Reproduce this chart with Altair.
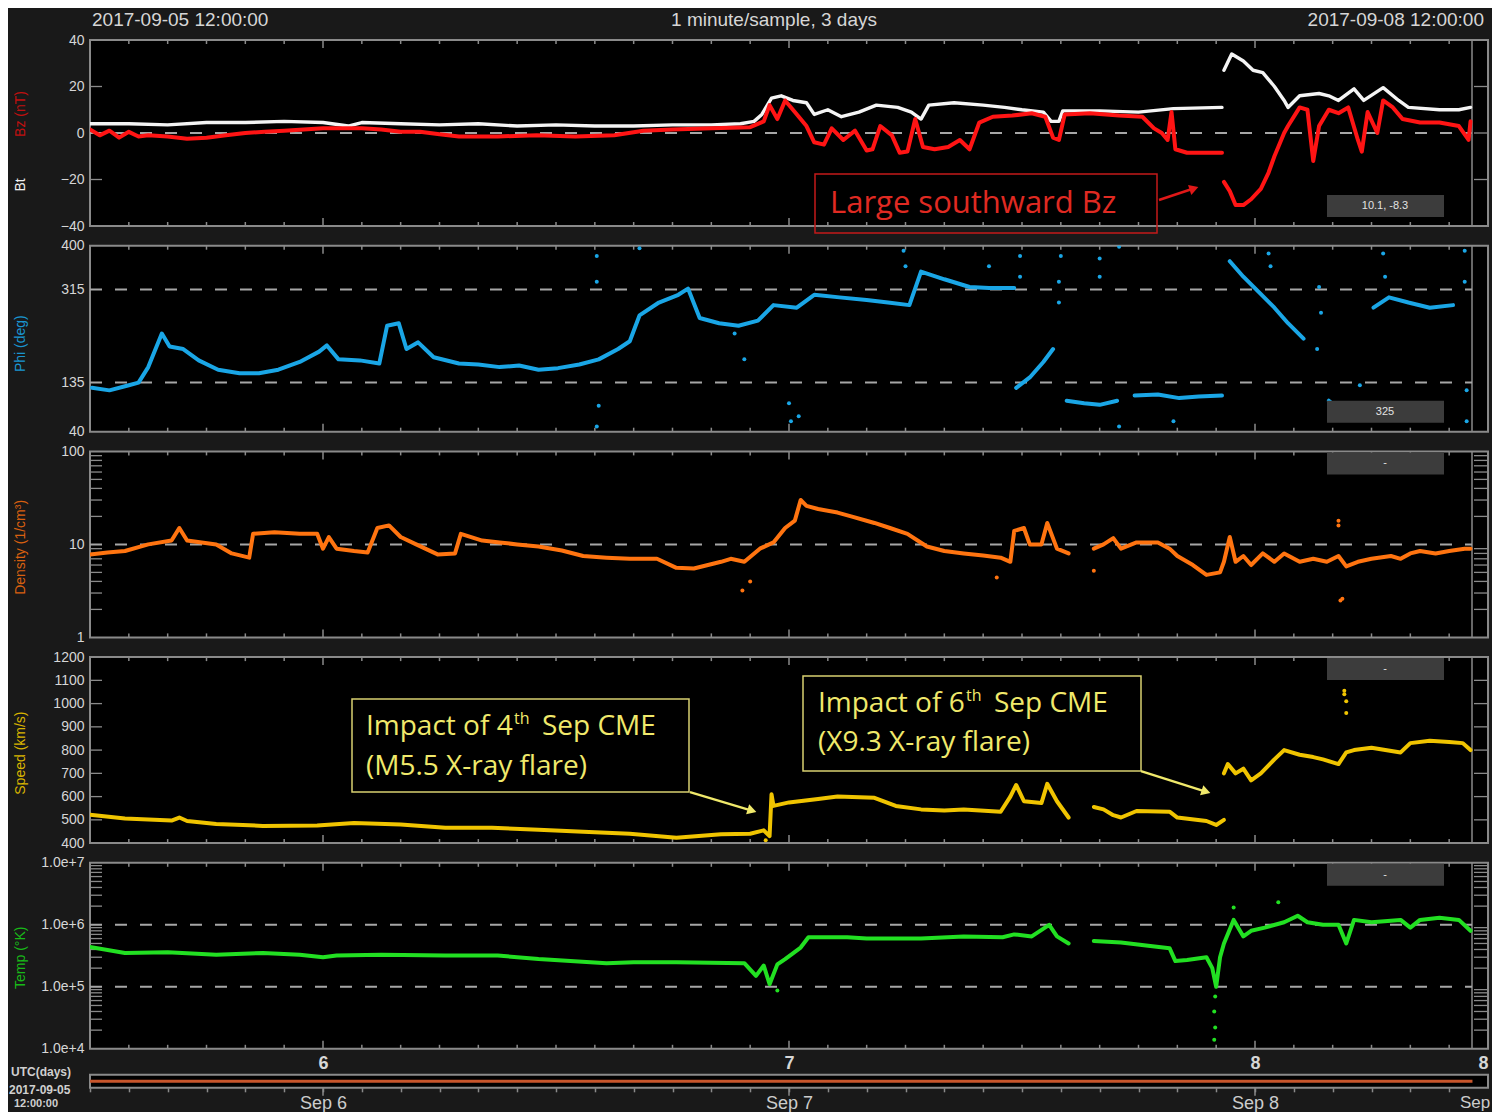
import altair as alt
import pandas as pd

# ---------------- data: hours since 2017-09-05 12:00 UTC ----------------
# Bt (white)
bt_h1 = [0, 2, 4, 6, 8, 10, 12, 13.3, 14, 16, 18, 20, 22, 24, 26, 28, 30, 32, 33.5, 34.2, 34.6, 35.1, 35.6, 36.2, 36.9,
         37.3, 38, 38.7, 39.6, 40.5, 41.6, 42.3, 42.8, 43.2, 44.5, 46, 47.1, 48, 49.1, 49.5, 49.9, 50.1, 52, 54, 55.8, 58.3]
bt_v1 = [4, 4, 3.5, 4.5, 4.5, 5, 4.5, 3, 4.5, 4, 3.5, 4, 3, 3.5, 3, 3, 3.5, 3.5, 4, 5, 8, 15, 16, 14, 13,
         8, 10, 7, 9, 12, 11, 9, 6, 12, 13, 12, 11, 10, 9, 5, 5, 9.5, 9.5, 9, 10.5, 11]
bt_h2 = [58.4, 58.8, 59.4, 59.9, 60.4, 61.0, 61.5, 61.7, 62.3, 63.3, 63.8, 64.3, 65.1, 65.6, 66.6, 67.4, 67.9, 69.5, 70.5, 71.1]
bt_v2 = [27, 34, 31, 27, 26, 20, 14, 11, 16, 17, 16, 14, 19, 14, 19.5, 14, 11, 10, 10, 11]

# Bz (red)
bz_h1 = [0, 0.5, 1, 1.5, 2, 2.5, 3, 4, 5, 6, 7, 8, 9, 10, 11, 12, 13, 14, 15, 16, 17, 18, 19, 21, 23, 25, 27, 28.5, 30, 32,
         34, 34.7, 35, 35.4, 35.8, 36.3, 36.9, 37.3, 37.8, 38.2, 38.8, 39.4, 40, 40.3, 40.7, 41.3, 41.7, 42.1, 42.5, 42.9,
         43.5, 44.2, 44.8, 45.3, 45.8, 46.5, 47.5, 48.5, 49.2, 49.6, 49.9, 50.2, 51.5, 53, 54.2, 54.8, 55.2, 55.5, 55.7,
         55.9, 56.5, 58.3]
bz_v1 = [1.5, -1, 1, -2, 0.5, -1.5, -1, -1.5, -2.5, -2, -1, 0, 0.5, 1, 1.5, 2, 2, 2, 1.5, 0.5, 0.5, -0.5, -1.5, -1.5, -1,
         -1.5, -1, 1, 1.5, 2, 2.5, 5, 12, 6, 14, 9, 3, -4, -5, 2, -3, 1, -7.5, -7, 3, -1, -8.5, -8, 6, -6,
         -7, -6, -3, -7, 4.5, 7, 7.5, 8.5, 7, -2, -3, 8, 8.5, 7.5, 7, 2, 0, -3, 9, -7, -8.5, -8.5]
bz_h2 = [58.4, 58.7, 59.0, 59.4, 59.8, 60.3, 60.7, 61.0, 61.5, 61.7, 62.3, 62.7, 63.0, 63.3, 63.8, 64.3, 64.8, 65.3, 65.5,
         65.8, 66.3, 66.6, 67.1, 67.6, 68.5, 69.5, 70.5, 71.0, 71.1]
bz_v2 = [-21, -25, -31, -31, -28.5, -24, -17, -10, 0, 3, 11, 10, -12, 3, 10, 8.5, 11, -3, -8, 9, 0, 14, 11, 6, 4.5, 4.5,
         3, -3, 5]

# Phi (deg)
phi_h1 = [0.1, 1.0, 2.0, 2.5, 3.0, 3.7, 4.1, 4.8, 5.6, 6.6, 7.7, 8.7, 9.7, 10.8, 11.8, 12.2, 12.8, 13.9, 14.9, 15.3, 15.9,
          16.3, 16.9, 17.7, 19.0, 20.0, 21.1, 22.1, 23.1, 24.1, 25.2, 26.2, 27.2, 27.8, 28.3, 29.3, 30.3, 30.8, 31.4, 32.4,
          33.4, 34.4, 35.2, 36.4, 37.3, 38.6, 40.0, 41.1, 42.2, 42.8, 44.0, 45.3, 46.3, 47.6]
phi_v1 = [125, 120, 130, 135, 165, 230, 205, 200, 178, 160, 153, 153, 160, 175, 195, 207, 180, 178, 172, 245, 250,
          200, 213, 184, 172, 170, 165, 168, 160, 163, 170, 180, 200, 215, 265, 290, 305, 317, 260, 250,
          245, 255, 285, 280, 305, 300, 295, 290, 285, 350, 335, 320, 318, 318]
phi_h2 = [47.7, 48.4, 49.1, 49.6]
phi_v2 = [125, 145, 175, 200]
phi_h3 = [50.3, 51.2, 52.0, 52.9]
phi_v3 = [100, 95, 92, 100]
phi_h4 = [53.8, 55.0, 56.1, 57.1, 58.3]
phi_v4 = [110, 112, 105, 108, 110]
phi_h5 = [58.7, 59.4, 60.2, 61.0, 61.7, 62.5]
phi_v5 = [370, 340, 310, 280, 250, 220]
phi_h6 = [63.8, 64.6]
phi_v6 = [100, 75]
phi_h7 = [66.1, 66.9, 67.9, 69.0, 70.2]
phi_v7 = [280, 300, 290, 280, 285]
phi_out_h = [26.1, 26.1, 26.2, 26.1, 28.3, 33.2, 33.7, 36.0, 36.1, 36.5, 41.9, 42.0, 46.3, 47.9, 47.9, 49.9, 49.9, 50.0,
             52.0, 52.0, 53.0, 53.0, 55.8, 60.7, 60.8, 63.3, 63.4, 63.2, 65.4, 65.5, 66.6, 66.7, 70.8, 70.8, 70.9, 70.9]
phi_out_v = [380, 330, 90, 50, 395, 230, 180, 95, 60, 70, 390, 360, 360, 380, 340, 290, 330, 380,
             375, 340, 398, 50, 60, 385, 360, 320, 270, 200, 130, 80, 385, 340, 390, 330, 120, 60]

# Density (1/cm^3)
den_h1 = [0, 0.9, 1.8, 3.0, 4.2, 4.6, 5.0, 6.5, 7.3, 8.2, 8.4, 9.5, 10.8, 11.7, 12.0, 12.3, 12.7, 13.6, 14.3, 14.8, 15.4,
          16.0, 16.8, 17.9, 18.8, 19.1, 20.2, 21.1, 22.0, 23.1, 24.3, 25.4, 26.6, 27.8, 29.2, 30.2, 31.1, 32.5, 33.0, 33.7,
          34.5, 35.2, 35.8, 36.3, 36.6, 36.9, 37.5, 38.5, 39.2, 40.4, 41.2, 42.1, 43.1, 44.0, 45.0, 46.0, 46.9, 47.4, 47.6,
          48.1, 48.4, 49.0, 49.3, 49.8, 50.4]
den_v1 = [7.8, 8.2, 8.5, 10, 11, 15, 11, 10, 8, 7.2, 13, 13.5, 13, 13, 9, 12, 9, 8.5, 8.2, 15, 16,
          12, 10, 7.8, 8, 13, 11, 10.5, 10, 9.5, 8.6, 7.5, 7.2, 7, 7, 5.6, 5.5, 6.5, 7, 6.5,
          9, 10.5, 15, 18, 30, 26, 24, 22, 20, 17, 15, 13, 9.5, 8.5, 8, 7.6, 7.2, 6.5, 14,
          15, 10, 10, 17, 9, 8]
den_h2 = [51.7, 52.2, 52.7, 53.1, 53.9, 55.0, 55.6, 56.0, 56.8, 57.5, 58.2, 58.4, 58.7, 59.0, 59.4, 59.8, 60.4, 61.0, 61.5,
          62.3, 63.0, 63.7, 64.3, 64.7, 65.3, 66.0, 67.0, 67.5, 68.0, 68.5, 69.3, 70.0, 70.8, 71.1]
den_v2 = [9, 10, 11.7, 9, 10.5, 10.5, 9, 7.5, 6, 4.7, 5, 6.5, 12, 6.5, 7.5, 6, 8, 6.5, 8,
          6.5, 7, 6.5, 7.5, 5.8, 6.5, 7, 7.5, 7, 8, 8.5, 8, 8.5, 9, 9]
den_out_h = [33.6, 34.0, 64.4, 64.5, 64.3, 64.3, 46.7, 51.7]
den_out_v = [3.2, 4.0, 2.5, 2.6, 18, 16, 4.4, 5.2]

# Speed (km/s)
spd_h1 = [0, 1.8, 4.2, 4.6, 5.0, 6.5, 8.9, 11.7, 13.6, 16.0, 18.3, 20.7, 23.1, 25.4, 27.8, 30.2, 32.5, 34.0, 34.7, 35.0,
          35.1, 35.2, 36.0, 37.5, 38.5, 40.4, 41.5, 42.8, 44.0, 45.0, 46.9, 47.4, 47.7, 48.1, 49.0, 49.3, 49.8, 50.4]
spd_v1 = [522, 506, 497, 510, 495, 482, 474, 476, 486, 480, 466, 466, 457, 449, 440, 423, 438, 440, 455, 430,
          610, 560, 575, 590, 600, 595, 560, 545, 540, 545, 535, 600, 650, 580, 572, 655, 580, 510]
spd_h2 = [51.7, 52.2, 52.7, 53.1, 53.9, 55.6, 56.0, 57.5, 58.0, 58.4]
spd_v2 = [555, 545, 520, 510, 538, 535, 510, 495, 478, 500]
spd_h3 = [58.4, 58.6, 59.0, 59.4, 59.8, 60.3, 61.0, 61.5, 62.3, 63.0, 63.5, 64.3, 64.7, 65.1, 66.0, 67.5, 68.0, 69.0, 70.0,
          70.7, 71.1]
spd_v3 = [700, 740, 700, 720, 670, 700, 760, 800, 780, 770, 760, 740, 790, 800, 810, 790, 830, 840, 835, 830, 800]
spd_out_h = [64.6, 64.6, 64.7, 64.7, 34.8]
spd_out_v = [1055, 1040, 1010, 960, 412]

# Temperature (K)
tmp_h1 = [0, 1.8, 4.0, 6.5, 8.9, 10.8, 12.0, 12.7, 15.0, 18.3, 21.0, 23.1, 26.6, 28.0, 30.2, 33.7, 34.3, 34.7, 35.0, 35.4,
          35.8, 36.6, 37.0, 39.0, 40.0, 42.8, 45.0, 47.0, 47.6, 48.5, 49.4, 49.8, 50.4]
tmp_v1 = [4.4e5, 3.5e5, 3.6e5, 3.3e5, 3.5e5, 3.3e5, 3.0e5, 3.2e5, 3.3e5, 3.2e5, 3.2e5, 2.8e5, 2.4e5, 2.5e5, 2.5e5, 2.4e5,
          1.5e5, 2.2e5, 1.1e5, 2.3e5, 2.8e5, 4.3e5, 6.3e5, 6.3e5, 6.0e5, 6.0e5, 6.5e5, 6.3e5, 7.0e5, 6.5e5, 1.0e6, 6.5e5,
          5.0e5]
tmp_h2 = [51.7, 53.1, 54.5, 55.6, 55.9, 56.5, 57.5, 57.8, 58.0, 58.2, 58.4, 58.9, 59.4, 59.8, 60.5, 61.5, 62.2, 62.7, 63.5,
          64.3, 64.7, 65.1, 66.0, 67.5, 68.0, 68.5, 69.5, 70.5, 71.1]
tmp_v2 = [5.5e5, 5.2e5, 4.6e5, 4.2e5, 2.6e5, 2.7e5, 3.0e5, 2.0e5, 1.0e5, 3.0e5, 5.0e5, 1.2e6, 6.5e5, 8.0e5, 9.0e5, 1.1e6,
          1.4e6, 1.1e6, 1.0e6, 1.0e6, 5.0e5, 1.2e6, 1.1e6, 1.2e6, 9.0e5, 1.2e6, 1.3e6, 1.2e6, 8.0e5]
tmp_out_h = [57.9, 57.95, 57.9, 57.95, 58.9, 61.2, 35.4]
tmp_out_v = [1.4e4, 2.2e4, 4e4, 7e4, 1.9e6, 2.3e6, 8.7e4]

# labels
header_left = "2017-09-05 12:00:00"
header_mid = "1 minute/sample, 3 days"
header_right = "2017-09-08 12:00:00"
day_hours = [12, 36, 60]

# ---------------- styling ----------------
FONT = "Liberation Sans"
ANNOT_FONT = "Open Sans"
BG = "#191919"
FRAME = "#8a8a8a"
DASH = "#a6a6a6"
LBL = "#d6d6d6"
W, H = 1398, 186
STRIP = 1382
LW = 4.0
TS = 14  # y-title font size
XS = alt.Scale(domain=[0, 72], nice=False, zero=False)
one = pd.DataFrame({"k": [0]})


def seg_df(*segs):
    rows = []
    for i, (hs, vs) in enumerate(segs):
        assert len(hs) == len(vs)
        rows += [{"h": h, "v": v, "seg": i} for h, v in zip(hs, vs)]
    return pd.DataFrame(rows)


def text(t, x, y, size=12, color=LBL, align="left", baseline="middle", font=FONT, weight="normal", angle=None):
    kw = dict(text=t, fontSize=size, color=color, align=align, baseline=baseline, font=font, fontWeight=weight)
    if angle is not None:
        kw["angle"] = angle
    return alt.Chart(one).mark_text(**kw).encode(x=alt.value(x), y=alt.value(y))


def rule(x1, y1, x2, y2, color, width=1.5):
    return alt.Chart(one).mark_rule(color=color, strokeWidth=width).encode(
        x=alt.value(x1), x2=alt.value(x2), y=alt.value(y1), y2=alt.value(y2))


def rect(x1, y1, x2, y2, fill, stroke=None, sw=1.5, fill_opacity=1.0):
    kw = dict(fill=fill, fillOpacity=fill_opacity)
    if stroke:
        kw.update(stroke=stroke, strokeWidth=sw)
    return alt.Chart(one).mark_rect(**kw).encode(
        x=alt.value(x1), x2=alt.value(x2), y=alt.value(y1), y2=alt.value(y2))


def arrowhead(x, y, angle, color):
    return alt.Chart(one).mark_point(shape="triangle-right", filled=True, size=110, color=color,
                                     opacity=1, angle=angle).encode(x=alt.value(x), y=alt.value(y))


def yaxis(values, expr=None, fmt=None):
    kw = dict(values=values, ticks=False, domain=False, grid=False, labelColor=LBL, labelFontSize=14,
              labelFont=FONT, labelPadding=6, labelOverlap=False, title=None)
    if expr:
        kw["labelExpr"] = expr
    if fmt:
        kw["format"] = fmt
    return alt.Axis(**kw)


minor_x = [h for h in range(2, 72, 2) if h not in day_hours]


def panel(Y, series, outliers=(), dashed=(), lticks=(), rticks=(), extras=(), xaxis=None, info=None, info_y=155):
    X = alt.X("h:Q", scale=XS, axis=xaxis, title=None)
    L = []
    L.append(alt.Chart(pd.DataFrame({"h": minor_x})).mark_rule(color=FRAME, strokeWidth=1.5).encode(
        x=X, y=alt.value(0), y2=alt.value(4)))
    L.append(alt.Chart(pd.DataFrame({"h": minor_x})).mark_rule(color=FRAME, strokeWidth=1.5).encode(
        x=X, y=alt.value(H - 4), y2=alt.value(H)))
    L.append(alt.Chart(pd.DataFrame({"h": day_hours})).mark_rule(color=FRAME, strokeWidth=1.5).encode(
        x=X, y=alt.value(0), y2=alt.value(8)))
    L.append(alt.Chart(pd.DataFrame({"h": day_hours})).mark_rule(color=FRAME, strokeWidth=1.5).encode(
        x=X, y=alt.value(H - 8), y2=alt.value(H)))
    L.append(rule(STRIP, 0, STRIP, H, FRAME, 1.5))
    if lticks:
        L.append(alt.Chart(pd.DataFrame({"v": list(lticks)})).mark_rule(color=FRAME, strokeWidth=1.3).encode(
            y=Y, x=alt.value(0), x2=alt.value(12)))
    if rticks:
        L.append(alt.Chart(pd.DataFrame({"v": list(rticks)})).mark_rule(color=FRAME, strokeWidth=1.3).encode(
            y=Y, x=alt.value(STRIP + 2), x2=alt.value(W)))
    if dashed:
        L.append(alt.Chart(pd.DataFrame({"v": list(dashed)})).mark_rule(
            color=DASH, strokeWidth=2, strokeDash=[12, 13]).encode(y=Y, x=alt.value(0), x2=alt.value(STRIP)))
    for df, color, width in series:
        L.append(alt.Chart(df).mark_line(color=color, strokeWidth=width, clip=True, strokeJoin="round",
                                         strokeCap="round").encode(x=X, y=Y, detail="seg:N"))
    for df, color in outliers:
        L.append(alt.Chart(df).mark_circle(color=color, size=16, opacity=1, clip=True).encode(x=X, y=Y))
    if info is not None:
        L.append(rect(1237, info_y, 1354, info_y + 22, "#3c3c3c"))
        L.append(text(info, 1295, info_y + 11, size=11, color="#e2e2e2", align="center"))
    L += list(extras)
    return alt.layer(*L).properties(width=W, height=H)


# ---------------- panel 1 : Bz / Bt ----------------
Y1 = alt.Y("v:Q", scale=alt.Scale(domain=[-40, 40], nice=False, zero=False),
           axis=yaxis([-40, -20, 0, 20, 40]), title=None)
RED_T = "#e02a22"
p1 = panel(
    Y1,
    [(seg_df((bt_h1, bt_v1), (bt_h2, bt_v2)), "#f4f4f4", 3.4),
     (seg_df((bz_h1, bz_v1), (bz_h2, bz_v2)), "#ff1414", LW)],
    dashed=[0], lticks=[-20, 20], rticks=[-20, 0, 20], info="10.1, -8.3", info_y=155,
    extras=[
        text(header_left, 2, -20, size=19, color=LBL),
        text(header_mid, 684, -20, size=19, color=LBL, align="center"),
        text(header_right, 1394, -20, size=19, color=LBL, align="right"),
        text("Bz (nT)", -69, 74, size=TS, color="#c01010", align="center", angle=270),
        text("Bt", -69, 145, size=TS, color="#f0f0f0", align="center", angle=270),
        rect(725, 134, 1067, 193, "black", stroke="#c41a1a", sw=1.5, fill_opacity=0),
        text("Large southward Bz", 740, 164, size=31, color=RED_T, font=ANNOT_FONT),
        rule(1069, 160, 1102, 149, "#e01818", 2.5),
        arrowhead(1104, 148.5, 342, "#e01818"),
    ])

# ---------------- panel 2 : Phi ----------------
Y2 = alt.Y("v:Q", scale=alt.Scale(domain=[40, 400], nice=False, zero=False),
           axis=yaxis([40, 135, 315, 400]), title=None)
PHI_C = "#1aa6e6"
p2 = panel(
    Y2,
    [(seg_df((phi_h1, phi_v1), (phi_h2, phi_v2), (phi_h3, phi_v3), (phi_h4, phi_v4), (phi_h5, phi_v5),
             (phi_h6, phi_v6), (phi_h7, phi_v7)), PHI_C, LW)],
    outliers=[(pd.DataFrame({"h": phi_out_h, "v": phi_out_v}), PHI_C)],
    dashed=[135, 315], info="325", info_y=155,
    extras=[text("Phi (deg)", -69, 98, size=TS, color="#1a95d0", align="center", angle=270)])

# ---------------- panel 3 : Density ----------------
dens_minor = [2, 3, 4, 5, 6, 7, 8, 9, 20, 30, 40, 50, 60, 70, 80, 90]
Y3 = alt.Y("v:Q", scale=alt.Scale(type="log", domain=[1, 100], nice=False),
           axis=yaxis([1, 10, 100], fmt="d"), title=None)
DEN_C = "#ff7410"
p3 = panel(
    Y3,
    [(seg_df((den_h1, den_v1), (den_h2, den_v2)), DEN_C, LW)],
    outliers=[(pd.DataFrame({"h": den_out_h, "v": den_out_v}), DEN_C)],
    dashed=[10], lticks=dens_minor, rticks=dens_minor, info="-", info_y=1,
    extras=[text("Density (1/cm³)", -69, 96, size=TS, color="#d86010", align="center", angle=270)])

# ---------------- panel 4 : Speed ----------------
YEL = "#f0e96b"
YEL_BOX = "#d8d070"
Y4 = alt.Y("v:Q", scale=alt.Scale(domain=[400, 1200], nice=False, zero=False),
           axis=yaxis(list(range(400, 1201, 100)), fmt="d"), title=None)
SPD_C = "#f0c400"
p4 = panel(
    Y4,
    [(seg_df((spd_h1, spd_v1), (spd_h2, spd_v2), (spd_h3, spd_v3)), SPD_C, LW)],
    outliers=[(pd.DataFrame({"h": spd_out_h, "v": spd_out_v}), SPD_C)],
    lticks=list(range(500, 1200, 100)), rticks=list(range(500, 1200, 100)), info="-", info_y=1,
    extras=[
        text("Speed (km/s)", -69, 96, size=TS, color="#d8b400", align="center", angle=270),
        rect(262, 42, 599, 135, "black", stroke=YEL_BOX, sw=1.5),
        text("Impact of 4", 276, 70, size=28, color=YEL, font=ANNOT_FONT),
        text("th", 424, 62, size=16, color=YEL, font=ANNOT_FONT),
        text("Sep CME", 452, 70, size=28, color=YEL, font=ANNOT_FONT),
        text("(M5.5 X-ray flare)", 276, 110, size=28, color=YEL, font=ANNOT_FONT),
        rule(600, 135, 660, 153, YEL, 2.2),
        arrowhead(662, 153.5, 17, YEL),
        rect(713, 19, 1051, 114, "black", stroke=YEL_BOX, sw=1.5),
        text("Impact of 6", 728, 47, size=28, color=YEL, font=ANNOT_FONT),
        text("th", 876, 39, size=16, color=YEL, font=ANNOT_FONT),
        text("Sep CME", 904, 47, size=28, color=YEL, font=ANNOT_FONT),
        text("(X9.3 X-ray flare)", 728, 86, size=28, color=YEL, font=ANNOT_FONT),
        rule(1051, 114, 1114, 134, YEL, 2.2),
        arrowhead(1116, 134.5, 18, YEL),
    ])

# ---------------- panel 5 : Temperature ----------------
tmp_minor = [m * 10 ** e for e in (4, 5, 6) for m in range(2, 10)]
Y5 = alt.Y("v:Q", scale=alt.Scale(type="log", domain=[1e4, 1e7], nice=False),
           axis=yaxis([1e4, 1e5, 1e6, 1e7], expr="'1.0e+' + format(round(log(datum.value) / LN10), 'd')"),
           title=None)
TMP_C = "#22e022"
x5_axis = alt.Axis(values=[12, 36, 60, 72],
                   labelExpr="datum.value == 12 ? '6' : datum.value == 36 ? '7' : '8'",
                   ticks=False, domain=False, grid=False, labelColor=LBL, labelFontSize=18,
                   labelFontWeight="bold", labelFont=FONT, labelPadding=6, labelOverlap=False,
                   labelFlush=True, title=None)
p5 = panel(
    Y5,
    [(seg_df((tmp_h1, tmp_v1), (tmp_h2, tmp_v2)), TMP_C, LW)],
    outliers=[(pd.DataFrame({"h": tmp_out_h, "v": tmp_out_v}), TMP_C)],
    dashed=[1e5, 1e6], lticks=tmp_minor, rticks=tmp_minor, info="-", info_y=1, xaxis=x5_axis,
    extras=[text("Temp (°K)", -69, 95, size=TS, color="#18b818", align="center", angle=270)])

# ---------------- navigator bar ----------------
GAP = 6.3          # extra gap above the bar (panel spacing is uniform)
NH = 13 + GAP
nav_axis = alt.Axis(values=list(range(0, 72, 2)),
                    labelExpr="datum.value == 12 ? 'Sep 6' : datum.value == 36 ? 'Sep 7' : datum.value == 60 ? 'Sep 8' : ''",
                    tickSize=4, tickColor=FRAME, tickWidth=1.5, domain=False, grid=False,
                    labelColor="#cccccc", labelFontSize=18, labelFont=FONT, labelPadding=3,
                    labelOverlap=False, title=None)
NX = alt.X("h:Q", scale=XS, axis=nav_axis, title=None)
nav = alt.layer(
    rect(0, GAP, W, NH, "black", stroke=FRAME, sw=2),
    alt.Chart(pd.DataFrame({"h": [0], "h2": [71.2]})).mark_rule(color="#c8562c", strokeWidth=3).encode(
        x=NX, x2="h2:Q", y=alt.value(GAP + 6.5)),
    alt.Chart(pd.DataFrame({"h": day_hours})).mark_rule(color=FRAME, strokeWidth=1.5).encode(
        x=NX, y=alt.value(NH), y2=alt.value(NH + 8)),
    text("Sep", 1370, NH + 7, size=17, color="#cccccc", baseline="top"),
    text("UTC(days)", -79, GAP - 3, size=12, color="#cfcfcf", weight="bold"),
    text("2017-09-05", -81, GAP + 15, size=12, color="#cfcfcf", weight="bold"),
    text("12:00:00", -76, GAP + 29, size=11, color="#cfcfcf", weight="bold"),
).properties(width=W, height=NH, view=alt.ViewBackground(stroke="transparent", fill="transparent"))

chart = alt.vconcat(p1, p2, p3, p4, p5, nav, spacing=19.7, bounds="flush").properties(
    background=BG, padding={"left": 0, "top": 2, "right": 0, "bottom": 0}
).configure_view(fill="black", stroke=FRAME, strokeWidth=2)

chart.save("out.html", embed_options={"renderer": "svg", "actions": False})
